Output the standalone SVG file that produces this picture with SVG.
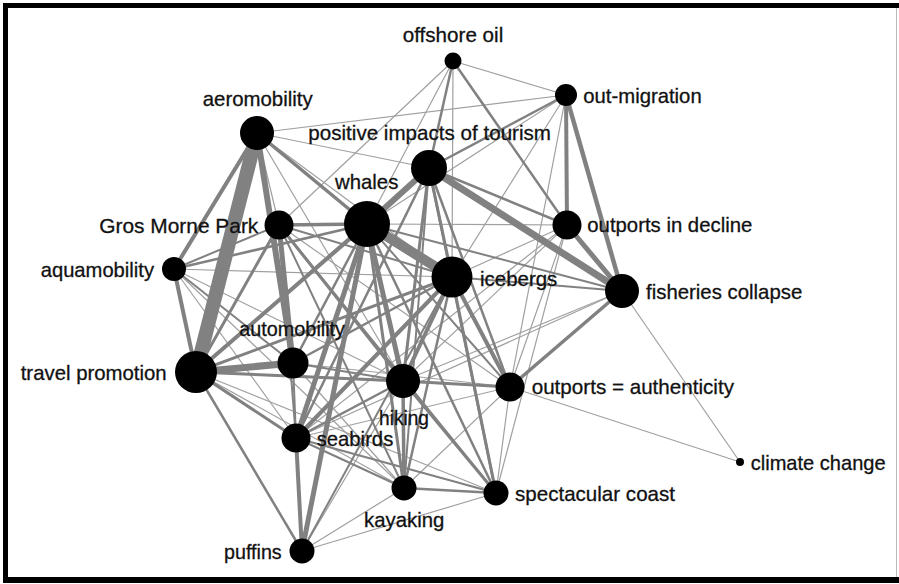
<svg xmlns="http://www.w3.org/2000/svg" width="899" height="584" viewBox="0 0 899 584">
<style>
.e{stroke:#818181;stroke-linecap:butt;fill:none}
.t{stroke:#a0a0a0;stroke-width:1.2;fill:none}
.n{fill:#000}
.l{font-family:"Liberation Sans",Arial,sans-serif;font-size:21px;fill:#111;stroke:#111;stroke-width:0.3}
</style>
<rect x="0" y="0" width="899" height="584" fill="#fff"/>
<g id="frame">
<rect x="3" y="3" width="896" height="5" fill="#000"/>
<rect x="3" y="3" width="5" height="580" fill="#000"/>
<rect x="3" y="577" width="896" height="6" fill="#000"/>
<line x1="896.5" y1="8" x2="896.5" y2="577" stroke="#bbb" stroke-width="1"/>
</g>
<g id="connectors">
<line class="t" x1="453" y1="61" x2="566" y2="95"/>
<line class="t" x1="453" y1="61" x2="452" y2="277"/>
<line class="t" x1="453" y1="61" x2="367" y2="224"/>
<line class="t" x1="453" y1="61" x2="279" y2="225"/>
<line class="t" x1="257" y1="133" x2="566" y2="95"/>
<line class="t" x1="566" y1="95" x2="367" y2="224"/>
<line class="t" x1="566" y1="95" x2="510" y2="387"/>
<line class="t" x1="566" y1="95" x2="452" y2="277"/>
<line class="t" x1="257" y1="133" x2="429" y2="168"/>
<line class="t" x1="622" y1="291" x2="740" y2="462"/>
<line class="t" x1="510" y1="387" x2="740" y2="462"/>
<line class="t" x1="567" y1="225" x2="510" y2="387"/>
<line class="t" x1="567" y1="225" x2="452" y2="277"/>
<line class="t" x1="567" y1="225" x2="403" y2="381"/>
<line class="t" x1="567" y1="225" x2="296" y2="438"/>
<line class="t" x1="567" y1="225" x2="367" y2="224"/>
<line class="t" x1="567" y1="225" x2="496" y2="493"/>
<line class="t" x1="622" y1="291" x2="403" y2="381"/>
<line class="t" x1="622" y1="291" x2="296" y2="438"/>
<line class="t" x1="174" y1="269" x2="404" y2="488"/>
<line class="t" x1="174" y1="269" x2="452" y2="277"/>
<line class="t" x1="174" y1="269" x2="403" y2="381"/>
<line class="t" x1="174" y1="269" x2="296" y2="438"/>
<line class="t" x1="302" y1="551" x2="404" y2="488"/>
<line class="t" x1="302" y1="551" x2="496" y2="493"/>
<line class="t" x1="302" y1="551" x2="403" y2="381"/>
<line class="t" x1="404" y1="488" x2="510" y2="387"/>
<line class="t" x1="196" y1="372" x2="496" y2="493"/>
<line class="t" x1="257" y1="133" x2="452" y2="277"/>
<line class="t" x1="257" y1="133" x2="403" y2="381"/>
<line class="t" x1="257" y1="133" x2="279" y2="225"/>
<line class="t" x1="293" y1="363" x2="404" y2="488"/>
<line class="t" x1="293" y1="363" x2="510" y2="387"/>
<line class="t" x1="296" y1="438" x2="510" y2="387"/>
<line class="t" x1="496" y1="493" x2="510" y2="387"/>
<line class="t" x1="196" y1="372" x2="510" y2="387"/>
<line class="t" x1="196" y1="372" x2="404" y2="488"/>
<line class="t" x1="279" y1="225" x2="510" y2="387"/>
<line class="e" stroke-width="2" x1="293" y1="363" x2="296" y2="438"/>
<line class="e" stroke-width="2" x1="174" y1="269" x2="279" y2="225"/>
<line class="e" stroke-width="2.5" x1="174" y1="269" x2="367" y2="224"/>
<line class="e" stroke-width="2" x1="174" y1="269" x2="293" y2="363"/>
<line class="e" stroke-width="2" x1="296" y1="438" x2="404" y2="488"/>
<line class="e" stroke-width="2" x1="296" y1="438" x2="496" y2="493"/>
<line class="e" stroke-width="2" x1="293" y1="363" x2="403" y2="381"/>
<line class="e" stroke-width="2" x1="279" y1="225" x2="296" y2="438"/>
<line class="e" stroke-width="2" x1="279" y1="225" x2="452" y2="277"/>
<line class="e" stroke-width="2" x1="279" y1="225" x2="404" y2="488"/>
<line class="e" stroke-width="2" x1="279" y1="225" x2="496" y2="493"/>
<line class="e" stroke-width="3" x1="279" y1="225" x2="403" y2="381"/>
<line class="e" stroke-width="2" x1="196" y1="372" x2="429" y2="168"/>
<line class="e" stroke-width="2.5" x1="196" y1="372" x2="302" y2="551"/>
<line class="e" stroke-width="3" x1="196" y1="372" x2="296" y2="438"/>
<line class="e" stroke-width="3" x1="196" y1="372" x2="452" y2="277"/>
<line class="e" stroke-width="3" x1="196" y1="372" x2="279" y2="225"/>
<line class="e" stroke-width="3" x1="196" y1="372" x2="403" y2="381"/>
<line class="e" stroke-width="2" x1="452" y1="277" x2="622" y2="291"/>
<line class="e" stroke-width="2" x1="367" y1="224" x2="622" y2="291"/>
<line class="e" stroke-width="3" x1="452" y1="277" x2="496" y2="493"/>
<line class="e" stroke-width="2.5" x1="452" y1="277" x2="404" y2="488"/>
<line class="e" stroke-width="2.5" x1="452" y1="277" x2="293" y2="363"/>
<line class="e" stroke-width="2" x1="452" y1="277" x2="302" y2="551"/>
<line class="e" stroke-width="3" x1="403" y1="381" x2="510" y2="387"/>
<line class="e" stroke-width="2.5" x1="403" y1="381" x2="296" y2="438"/>
<line class="e" stroke-width="2.5" x1="404" y1="488" x2="496" y2="493"/>
<line class="e" stroke-width="3" x1="367" y1="224" x2="404" y2="488"/>
<line class="e" stroke-width="2.5" x1="367" y1="224" x2="496" y2="493"/>
<line class="e" stroke-width="2" x1="367" y1="224" x2="510" y2="387"/>
<line class="e" stroke-width="2.5" x1="367" y1="224" x2="293" y2="363"/>
<line class="e" stroke-width="2.5" x1="453" y1="61" x2="429" y2="168"/>
<line class="e" stroke-width="2.5" x1="453" y1="61" x2="567" y2="225"/>
<line class="e" stroke-width="2.5" x1="566" y1="95" x2="429" y2="168"/>
<line class="e" stroke-width="2.5" x1="429" y1="168" x2="567" y2="225"/>
<line class="e" stroke-width="3" x1="429" y1="168" x2="452" y2="277"/>
<line class="e" stroke-width="3" x1="429" y1="168" x2="403" y2="381"/>
<line class="e" stroke-width="2.5" x1="429" y1="168" x2="296" y2="438"/>
<line class="e" stroke-width="2.5" x1="429" y1="168" x2="510" y2="387"/>
<line class="e" stroke-width="2.5" x1="429" y1="168" x2="496" y2="493"/>
<line class="e" stroke-width="2" x1="429" y1="168" x2="404" y2="488"/>
<line class="e" stroke-width="3.5" x1="622" y1="291" x2="510" y2="387"/>
<line class="e" stroke-width="3.5" x1="403" y1="381" x2="404" y2="488"/>
<line class="e" stroke-width="3" x1="403" y1="381" x2="496" y2="493"/>
<line class="e" stroke-width="4" x1="296" y1="438" x2="302" y2="551"/>
<line class="e" stroke-width="3.5" x1="257" y1="133" x2="367" y2="224"/>
<line class="e" stroke-width="3.5" x1="279" y1="225" x2="367" y2="224"/>
<line class="e" stroke-width="4" x1="452" y1="277" x2="510" y2="387"/>
<line class="e" stroke-width="4" x1="452" y1="277" x2="296" y2="438"/>
<line class="e" stroke-width="4" x1="452" y1="277" x2="403" y2="381"/>
<line class="e" stroke-width="4" x1="196" y1="372" x2="367" y2="224"/>
<line class="e" stroke-width="4" x1="257" y1="133" x2="174" y2="269"/>
<line class="e" stroke-width="4" x1="174" y1="269" x2="196" y2="372"/>
<line class="e" stroke-width="5" x1="279" y1="225" x2="293" y2="363"/>
<line class="e" stroke-width="4.5" x1="566" y1="95" x2="622" y2="291"/>
<line class="e" stroke-width="4" x1="566" y1="95" x2="567" y2="225"/>
<line class="e" stroke-width="5" x1="567" y1="225" x2="622" y2="291"/>
<line class="e" stroke-width="5" x1="367" y1="224" x2="403" y2="381"/>
<line class="e" stroke-width="5" x1="367" y1="224" x2="302" y2="551"/>
<line class="e" stroke-width="5" x1="367" y1="224" x2="296" y2="438"/>
<line class="e" stroke-width="6" x1="429" y1="168" x2="367" y2="224"/>
<line class="e" stroke-width="6" x1="257" y1="133" x2="293" y2="363"/>
<line class="e" stroke-width="7" x1="196" y1="372" x2="293" y2="363"/>
<line class="e" stroke-width="7" x1="429" y1="168" x2="622" y2="291"/>
<line class="e" stroke-width="10" x1="367" y1="224" x2="452" y2="277"/>
<line class="e" stroke-width="14" x1="257" y1="133" x2="196" y2="372"/>
</g>
<g id="node-offshore-oil"><circle class="n" cx="453" cy="61" r="8.5"/><text class="l" x="402.7" y="42" textLength="100.6" lengthAdjust="spacingAndGlyphs">offshore oil</text></g>
<g id="node-out-migration"><circle class="n" cx="566" cy="95" r="11"/><text class="l" x="583.3" y="103" textLength="118.4" lengthAdjust="spacingAndGlyphs">out-migration</text></g>
<g id="node-aeromobility"><circle class="n" cx="257" cy="133" r="17"/><text class="l" x="202.7" y="105.5" textLength="110" lengthAdjust="spacingAndGlyphs">aeromobility</text></g>
<g id="node-positive-impacts"><circle class="n" cx="429" cy="168" r="18"/><text class="l" x="308.3" y="139.5" textLength="242.7" lengthAdjust="spacingAndGlyphs">positive impacts of tourism</text></g>
<g id="node-whales"><circle class="n" cx="367" cy="224" r="23"/><text class="l" x="335" y="188.5" textLength="63.3" lengthAdjust="spacingAndGlyphs">whales</text></g>
<g id="node-gros-morne"><circle class="n" cx="279" cy="225" r="14.5"/><text class="l" x="99.3" y="232.5" textLength="159" lengthAdjust="spacingAndGlyphs">Gros Morne Park</text></g>
<g id="node-outports-decline"><circle class="n" cx="567" cy="225" r="14.5"/><text class="l" x="587.3" y="232" textLength="165" lengthAdjust="spacingAndGlyphs">outports in decline</text></g>
<g id="node-aquamobility"><circle class="n" cx="174" cy="269" r="12"/><text class="l" x="40.7" y="276.5" textLength="113.3" lengthAdjust="spacingAndGlyphs">aquamobility</text></g>
<g id="node-icebergs"><circle class="n" cx="452" cy="277" r="20.5"/><text class="l" x="480" y="285.5" textLength="77.3" lengthAdjust="spacingAndGlyphs">icebergs</text></g>
<g id="node-fisheries-collapse"><circle class="n" cx="622" cy="291" r="17"/><text class="l" x="646" y="299" textLength="156.3" lengthAdjust="spacingAndGlyphs">fisheries collapse</text></g>
<g id="node-automobility"><circle class="n" cx="293" cy="363" r="15.5"/><text class="l" x="239.3" y="336" textLength="105.7" lengthAdjust="spacingAndGlyphs">automobility</text></g>
<g id="node-travel-promotion"><circle class="n" cx="196" cy="372" r="21"/><text class="l" x="20.7" y="380" textLength="146" lengthAdjust="spacingAndGlyphs">travel promotion</text></g>
<g id="node-hiking"><circle class="n" cx="403" cy="381" r="17"/><text class="l" x="379" y="425" textLength="50" lengthAdjust="spacingAndGlyphs">hiking</text></g>
<g id="node-outports-authenticity"><circle class="n" cx="510" cy="387" r="14.5"/><text class="l" x="531.7" y="394" textLength="202.3" lengthAdjust="spacingAndGlyphs">outports = authenticity</text></g>
<g id="node-seabirds"><circle class="n" cx="296" cy="438" r="14.5"/><text class="l" x="316.7" y="445.5" textLength="76.6" lengthAdjust="spacingAndGlyphs">seabirds</text></g>
<g id="node-climate-change"><circle class="n" cx="740" cy="462" r="4"/><text class="l" x="750.7" y="470" textLength="135" lengthAdjust="spacingAndGlyphs">climate change</text></g>
<g id="node-kayaking"><circle class="n" cx="404" cy="488" r="12.5"/><text class="l" x="364" y="527" textLength="80.3" lengthAdjust="spacingAndGlyphs">kayaking</text></g>
<g id="node-spectacular-coast"><circle class="n" cx="496" cy="493" r="12.5"/><text class="l" x="515" y="500.5" textLength="160" lengthAdjust="spacingAndGlyphs">spectacular coast</text></g>
<g id="node-puffins"><circle class="n" cx="302" cy="551" r="12.5"/><text class="l" x="224" y="559" textLength="57.7" lengthAdjust="spacingAndGlyphs">puffins</text></g>
</svg>
